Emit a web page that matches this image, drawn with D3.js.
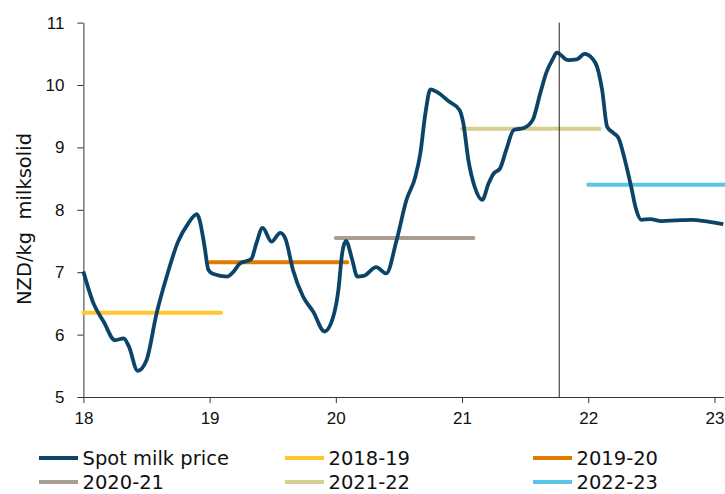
<!DOCTYPE html>
<html>
<head>
<meta charset="utf-8">
<script src="https://cdn.jsdelivr.net/npm/d3@7"></script>
<style>
  body { margin: 0; background: #fff; }
  svg { display: block; font-family: Verdana, "DejaVu Sans", sans-serif; }
  .axis path, .axis line { stroke: #333; }
  .axis text { font-size: 17px; fill: #111; }
</style>
</head>
<body>
<div id="chart"></div>
<script>
// spot milk price, x in decimal years (18 = 2018)
var spotX = [18.00, 18.08, 18.16, 18.25, 18.32, 18.36, 18.43, 18.50, 18.58, 18.66, 18.75, 18.83, 18.90, 18.92, 18.96, 18.99,
  19.03, 19.14, 19.19, 19.24, 19.33, 19.37, 19.42, 19.49, 19.56, 19.60, 19.66, 19.74, 19.82, 19.91, 19.98,
  20.02, 20.05, 20.08, 20.13, 20.17, 20.22, 20.32, 20.40, 20.48, 20.56, 20.63, 20.67, 20.71, 20.75, 20.80, 20.90, 20.98,
  21.01, 21.05, 21.10, 21.16, 21.21, 21.25, 21.30, 21.35, 21.41, 21.49, 21.56, 21.62, 21.67, 21.72, 21.75, 21.84, 21.91, 21.97,
  22.03, 22.07, 22.11, 22.15, 22.20, 22.24, 22.29, 22.34, 22.38, 22.42, 22.49, 22.58, 22.69, 22.82, 22.95, 23.07];
var spotY = [7.01, 6.50, 6.21, 5.91, 5.94, 5.81, 5.42, 5.59, 6.34, 6.93, 7.49, 7.78, 7.93, 7.84, 7.41, 7.04,
  6.97, 6.93, 7.01, 7.14, 7.21, 7.46, 7.71, 7.49, 7.63, 7.54, 7.04, 6.61, 6.37, 6.05, 6.29,
  6.71, 7.30, 7.50, 7.20, 6.93, 6.94, 7.08, 6.98, 7.50, 8.16, 8.53, 8.91, 9.55, 9.93, 9.89, 9.73, 9.60,
  9.39, 8.80, 8.37, 8.16, 8.42, 8.58, 8.66, 8.96, 9.28, 9.31, 9.44, 9.87, 10.21, 10.42, 10.52, 10.40, 10.41, 10.50,
  10.43, 10.29, 9.92, 9.33, 9.23, 9.15, 8.80, 8.37, 8.00, 7.84, 7.85, 7.82, 7.83, 7.84, 7.81, 7.77];

// season averages
var seasons = ["2018-19", "2019-20", "2020-21", "2021-22", "2022-23"];
var seasonStart = [18, 19, 20, 21, 22];
var seasonEnd = [19.09, 20.09, 21.09, 22.09, 23.09];
var seasonAvg = [6.35, 7.16, 7.55, 9.30, 8.40];
var seasonColors = ["#ffc72c", "#e07b00", "#a99d90", "#d5d08e", "#5bc5e8"];

var marker = 21.77; // vertical line
var xTicks = [18, 19, 20, 21, 22, 23];
var yTicks = [5, 6, 7, 8, 9, 10, 11];

var W = 725, H = 494;
var svg = d3.select("#chart").append("svg")
  .attr("width", W).attr("height", H);

var x = d3.scaleLinear().domain([18, 23.07]).range([83.4, 723.3]);
var y = d3.scaleLinear().domain([5, 11]).range([397, 22.6]);

svg.append("g").attr("class", "axis")
  .attr("transform", "translate(0,397)")
  .call(d3.axisBottom(x).tickValues(xTicks).tickFormat(d3.format("d")).tickSize(6).tickSizeOuter(0).tickPadding(9));

svg.append("g").attr("class", "axis")
  .attr("transform", "translate(83.4,0)")
  .call(d3.axisLeft(y).tickValues(yTicks).tickFormat(d3.format("d")).tickSize(6).tickSizeOuter(0).tickPadding(13));

svg.append("text")
  .attr("transform", "translate(31,219) rotate(-90)")
  .attr("text-anchor", "middle")
  .style("font-size", "19.5px")
  .style("white-space", "pre")
  .attr("fill", "#111")
  .text("NZD/kg  milksolid");

// average lines
seasons.forEach(function(s, i) {
  svg.append("line")
    .attr("x1", x(seasonStart[i])).attr("x2", x(seasonEnd[i]))
    .attr("y1", y(seasonAvg[i])).attr("y2", y(seasonAvg[i]))
    .attr("stroke", seasonColors[i])
    .attr("stroke-width", 4)
    .attr("stroke-linecap", "round");
});

var line = d3.line()
  .x(function(d) { return x(d[0]); })
  .y(function(d) { return y(d[1]); })
  .curve(d3.curveMonotoneX);

svg.append("path")
  .datum(d3.zip(spotX, spotY))
  .attr("d", line)
  .attr("fill", "none")
  .attr("stroke", "#0b4468")
  .attr("stroke-width", 3.8)
  .attr("stroke-linejoin", "round");

svg.append("line")
  .attr("x1", x(marker)).attr("x2", x(marker))
  .attr("y1", y(11)).attr("y2", y(5))
  .attr("stroke", "#222").attr("stroke-width", 1);

// legend
var legNames = ["Spot milk price"].concat(seasons);
var legColors = ["#0b4468"].concat(seasonColors);
var colX = [39, 285, 533], rowY = [458, 482];
legNames.forEach(function(n, i) {
  var cx = colX[i % 3], cy = rowY[Math.floor(i / 3)];
  svg.append("line")
    .attr("x1", cx).attr("x2", cx + 39)
    .attr("y1", cy).attr("y2", cy)
    .attr("stroke", legColors[i]).attr("stroke-width", 4);
  svg.append("text")
    .attr("x", cx + 43.5).attr("y", cy)
    .attr("dy", "0.34em")
    .style("font-size", "19.5px")
    .attr("fill", "#111")
    .text(n);
});
</script>
</body>
</html>
